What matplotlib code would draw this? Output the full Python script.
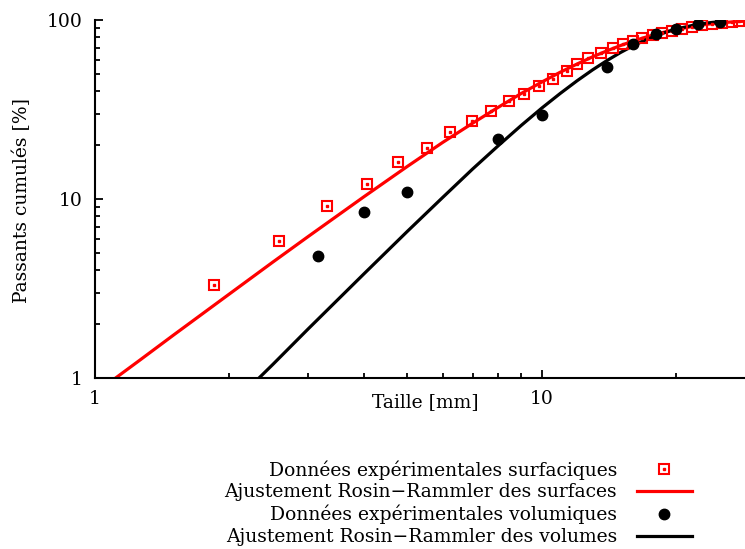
import matplotlib
matplotlib.use("Agg")
import matplotlib.pyplot as plt
from matplotlib.ticker import LogLocator, NullFormatter, FixedLocator, FixedFormatter
from matplotlib.legend_handler import HandlerTuple

plt.rcParams["font.family"] = ["DejaVu Serif"]

taille_surf = [1.85, 2.58, 3.30, 4.06, 4.76, 5.53, 6.22, 6.97, 7.69, 8.44, 9.12, 9.85,
               10.6, 11.4, 12.0, 12.7, 13.6, 14.4, 15.2, 16.0, 16.8, 17.7, 18.6, 19.6,
               20.6, 21.7, 22.8, 24.0, 25.3, 26.7, 27.7]
pass_surf = [3.31, 5.82, 9.14, 12.1, 16.1, 19.3, 23.7, 27.3, 31.0, 35.3, 38.6, 42.8,
             46.8, 51.9, 56.8, 61.3, 65.4, 69.5, 73.0, 76.0, 79.0, 82.0, 84.5, 87.0,
             89.5, 91.5, 93.5, 95.0, 96.5, 97.5, 98.3]

# données expérimentales (volumes)
taille_vol = [3.16, 4.0, 5.0, 8.0, 10.0, 14.0, 16.0, 18.0, 20.0, 22.4, 25.0]
pass_vol = [4.79, 8.49, 10.98, 21.6, 29.5, 54.4, 73.5, 83.2, 89.1, 95.0, 97.9]

# courbes d'ajustement Rosin-Rammler (points relevés le long des courbes)
taille_fit_surf = [1.0, 1.1, 1.25, 1.5, 2, 2.5, 3, 4, 5, 6, 7, 8, 9, 10, 11, 12, 13, 14, 15,
                   16, 17, 18, 19, 20, 22, 23.5, 25, 27, 28.5]
fit_surf = [0.82, 0.98, 1.24, 1.74, 2.95, 4.44, 6.17, 10.3, 15.2, 20.7, 26.5, 32.6, 38.9,
            45.0, 51.1, 56.8, 62.3, 67.3, 72.0, 76.2, 79.9, 83.2, 86.1, 88.6, 92.5, 94.7,
            96.3, 97.8, 98.5]
taille_fit_vol = [2.3, 2.5, 3, 4, 5, 6, 7, 8, 9, 10, 11, 12, 13, 14, 15, 16, 17, 18, 19,
                  20, 22, 23.5, 25]
fit_vol = [0.97, 1.19, 1.88, 3.82, 6.59, 10.2, 14.7, 19.9, 25.8, 32.2, 38.9, 45.8, 52.7,
           59.4, 65.8, 71.7, 77.0, 81.6, 85.6, 89.0, 93.9, 96.3, 97.9]

ROUGE, NOIR = "#ff0000", "#000000"
TAILLE_POLICE = 13.5

fig = plt.figure(figsize=(7.45, 5.49), dpi=100)
ax = fig.add_axes([95 / 745, 1 - 378 / 549, 650 / 745, 358 / 549])

carres = ax.plot(taille_surf, pass_surf, ls="none", marker="s", ms=7, mfc="none", mec=ROUGE,
                 mew=1.5, zorder=3)[0]
points = ax.plot(taille_surf, pass_surf, ls="none", marker="s", ms=1.5, mfc=ROUGE, mec=ROUGE,
                 zorder=3)[0]
fit_s = ax.plot(taille_fit_surf, fit_surf, color=ROUGE, lw=2.3, zorder=2)[0]
ronds = ax.plot(taille_vol, pass_vol, ls="none", marker="o", ms=7.5, color=NOIR, zorder=4)[0]
fit_v = ax.plot(taille_fit_vol, fit_vol, color=NOIR, lw=2.3, zorder=2)[0]

ax.set_xscale("log")
ax.set_yscale("log")
ax.set_xlim(1, 28.5)
ax.set_ylim(1, 100)

for s in ("top", "right"):
    ax.spines[s].set_visible(False)
for s in ("left", "bottom"):
    ax.spines[s].set_linewidth(1.5)

ax.xaxis.set_major_locator(FixedLocator([1, 10]))
ax.xaxis.set_major_formatter(FixedFormatter(["1", "10"]))
ax.yaxis.set_major_locator(FixedLocator([1, 10, 100]))
ax.yaxis.set_major_formatter(FixedFormatter(["1", "10", "100"]))
ax.xaxis.set_minor_locator(LogLocator(base=10, subs=range(2, 10)))
ax.yaxis.set_minor_locator(LogLocator(base=10, subs=range(2, 10)))
ax.xaxis.set_minor_formatter(NullFormatter())
ax.yaxis.set_minor_formatter(NullFormatter())
ax.tick_params(which="both", direction="in", width=1.3, labelsize=TAILLE_POLICE, pad=9)
ax.tick_params(which="major", length=6)
ax.tick_params(which="minor", length=3.5)

ax.set_xlabel("Taille [mm]", fontsize=TAILLE_POLICE)
ax.set_ylabel("Passants cumulés [%]", fontsize=TAILLE_POLICE)
ax.xaxis.set_label_coords(0.508, -0.042)
ax.yaxis.set_label_coords(-0.098, 0.497)

fig.legend([(carres, points), fit_s, ronds, fit_v],
           ["Données expérimentales surfaciques", "Ajustement Rosin−Rammler des surfaces",
            "Données expérimentales volumiques", "Ajustement Rosin−Rammler des volumes"],
           handler_map={tuple: HandlerTuple(ndivide=1)},
           loc="upper right", bbox_to_anchor=(692 / 745, 1 - 460 / 549), frameon=False,
           markerfirst=False, fontsize=TAILLE_POLICE, handlelength=2.95, handletextpad=1.05,
           labelspacing=0.2, borderpad=0, borderaxespad=0)

fig.savefig("out.png", dpi=100, facecolor="white")
